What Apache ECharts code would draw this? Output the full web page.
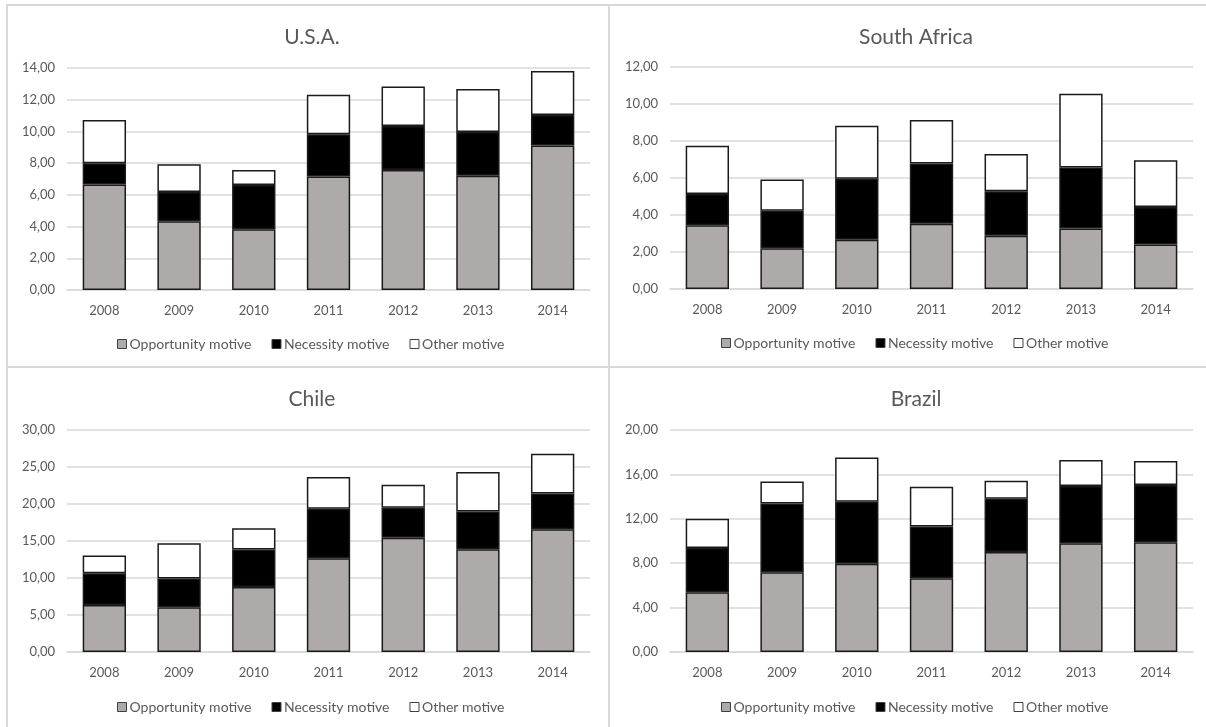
<!DOCTYPE html>
<html>
<head>
<meta charset="utf-8">
<title>Entrepreneurial motives 2008-2014</title>
<script src="https://cdn.jsdelivr.net/npm/echarts@6/dist/echarts.min.js"></script>
<style>
  html, body { margin: 0; padding: 0; background: #ffffff; }
  #chart { width: 1206px; height: 727px; }
</style>
</head>
<body>
<div id="chart"></div>
<script>
// Years on the category axis
const years = ['2008', '2009', '2010', '2011', '2012', '2013', '2014'];

// Legend / series names
const seriesNames = ['Opportunity motive', 'Necessity motive', 'Other motive'];

// U.S.A.
const usaOpportunity = [6.66, 4.33, 3.83, 7.15, 7.57, 7.21, 9.12];
const usaNecessity   = [1.33, 1.85, 2.79, 2.67, 2.77, 2.75, 1.92];
const usaOther       = [2.73, 1.75, 0.95, 2.50, 2.50, 2.72, 2.77];

// South Africa
const zafOpportunity = [3.45, 2.20, 2.66, 3.53, 2.88, 3.27, 2.41];
const zafNecessity   = [1.68, 2.03, 3.30, 3.25, 2.41, 3.30, 2.02];
const zafOther       = [2.62, 1.69, 2.87, 2.36, 2.01, 3.99, 2.53];

// Chile
const chlOpportunity = [6.36, 6.04, 8.80, 12.67, 15.43, 13.89, 16.60];
const chlNecessity   = [4.29, 3.88, 5.05, 6.68, 4.06, 5.10, 4.83];
const chlOther       = [2.39, 4.78, 2.88, 4.29, 3.11, 5.32, 5.36];

// Brazil
const braOpportunity = [5.38, 7.19, 7.94, 6.65, 9.02, 9.80, 9.89];
const braNecessity   = [4.00, 6.19, 5.59, 4.66, 4.78, 5.15, 5.15];
const braOther       = [2.62, 1.99, 4.00, 3.58, 1.63, 2.34, 2.16];

// Y axis scales per panel
const usaAxis = { max: 14, interval: 2 };
const zafAxis = { max: 12, interval: 2 };
const chlAxis = { max: 30, interval: 5 };
const braAxis = { max: 20, interval: 4 };

const FONT = 'Lato, "Open Sans", sans-serif';
const TEXT = '#595959';
const LINE = '#d9d9d9';
const fills = ['#aeaaaa', '#000000', '#ffffff'];

const panels = [
  { title: 'U.S.A.',       cx: 307, titleTop: 22,  grid: { left: 67,  top: 68,  width: 523, height: 222 }, legendTop: 332, axis: usaAxis, data: [usaOpportunity, usaNecessity, usaOther] },
  { title: 'South Africa', cx: 911, titleTop: 22,  grid: { left: 670, top: 67,  width: 523, height: 222 }, legendTop: 331, axis: zafAxis, data: [zafOpportunity, zafNecessity, zafOther] },
  { title: 'Chile',        cx: 307, titleTop: 384, grid: { left: 67,  top: 430, width: 523, height: 222 }, legendTop: 695, axis: chlAxis, data: [chlOpportunity, chlNecessity, chlOther] },
  { title: 'Brazil',       cx: 911, titleTop: 384, grid: { left: 670, top: 430, width: 523, height: 222 }, legendTop: 695, axis: braAxis, data: [braOpportunity, braNecessity, braOther] }
];

const fmt = v => v.toFixed(2).replace('.', ',');

const option = {
  backgroundColor: '#ffffff',
  animation: false,
  textStyle: { fontFamily: FONT },
  title: panels.map(p => ({
    text: p.title,
    left: p.cx,
    top: p.titleTop,
    textAlign: 'center',
    textStyle: { fontFamily: FONT, fontSize: 21, fontWeight: 'normal', color: TEXT }
  })),
  legend: panels.map(p => ({
    data: seriesNames,
    left: p.cx - 195,
    top: p.legendTop,
    orient: 'horizontal',
    itemWidth: 9,
    itemHeight: 9,
    itemGap: 20,
    icon: 'rect',
    selectedMode: false,
    textStyle: { fontFamily: FONT, fontSize: 14, color: TEXT, padding: [0, 0, 0, -2] },
    itemStyle: { borderColor: '#404040', borderWidth: 1 }
  })),
  grid: panels.map(p => Object.assign({ containLabel: false }, p.grid)),
  xAxis: panels.map((p, i) => ({
    type: 'category',
    gridIndex: i,
    data: years,
    axisLine: { show: true, lineStyle: { color: LINE, width: 1.5 } },
    axisTick: { show: false },
    axisLabel: { fontFamily: FONT, fontSize: 13, color: TEXT, margin: 14 }
  })),
  yAxis: panels.map((p, i) => ({
    type: 'value',
    gridIndex: i,
    min: 0,
    max: p.axis.max,
    interval: p.axis.interval,
    axisLine: { show: false },
    axisTick: { show: false },
    splitLine: { lineStyle: { color: LINE, width: 1.5 } },
    axisLabel: { fontFamily: FONT, fontSize: 13, color: TEXT, margin: 12, formatter: fmt }
  })),
  series: [],
  graphic: [
    // panel frames
    { type: 'rect', shape: { x: 7, y: 5, width: 602, height: 362 }, style: { fill: 'none', stroke: LINE, lineWidth: 2 }, silent: true },
    { type: 'rect', shape: { x: 609, y: 5, width: 602, height: 362 }, style: { fill: 'none', stroke: LINE, lineWidth: 2 }, silent: true },
    { type: 'rect', shape: { x: 7, y: 367, width: 602, height: 365 }, style: { fill: 'none', stroke: LINE, lineWidth: 2 }, silent: true },
    { type: 'rect', shape: { x: 609, y: 367, width: 602, height: 365 }, style: { fill: 'none', stroke: LINE, lineWidth: 2 }, silent: true }
  ]
};

panels.forEach((p, i) => {
  seriesNames.forEach((name, k) => {
    option.series.push({
      name: name,
      type: 'bar',
      xAxisIndex: i,
      yAxisIndex: i,
      stack: 'panel' + i,
      barWidth: '58%',
      data: p.data[k],
      itemStyle: { color: fills[k], borderColor: '#1a1a1a', borderWidth: 1.5 },
      emphasis: { disabled: true }
    });
  });
});

const chart = echarts.init(document.getElementById('chart'), null, { renderer: 'canvas' });
chart.setOption(option);
</script>
</body>
</html>
